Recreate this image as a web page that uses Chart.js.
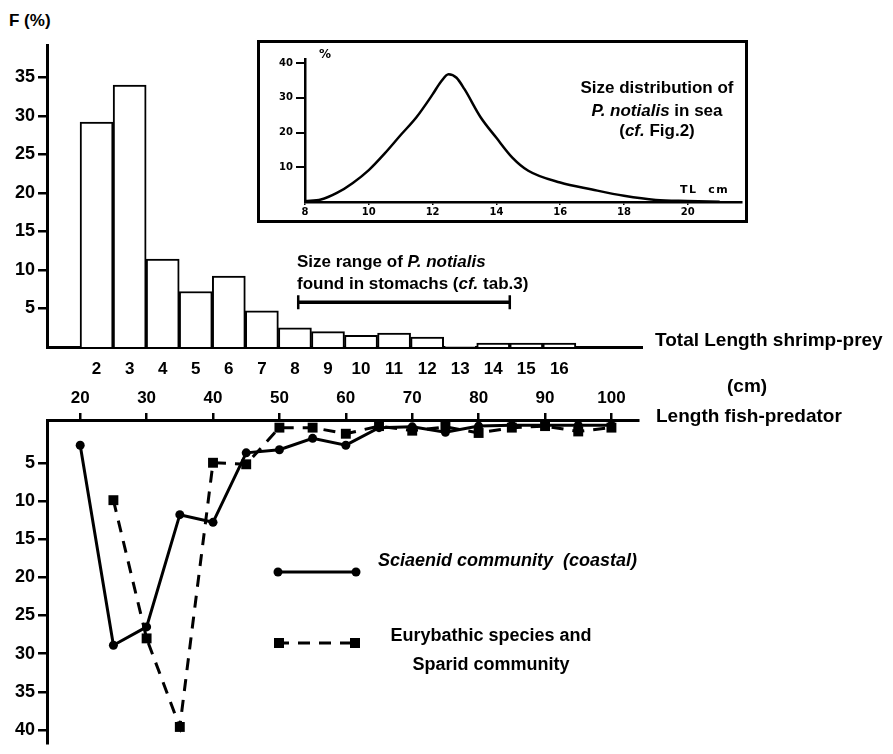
<!DOCTYPE html>
<html>
<head>
<meta charset="utf-8">
<script src="https://cdn.jsdelivr.net/npm/chart.js@4.4.1/dist/chart.umd.min.js"></script>
<style>
  html, body { margin: 0; padding: 0; background: #fff; }
  #page { position: relative; width: 893px; height: 754px; overflow: hidden;
          font-family: 'Liberation Sans', Arial, sans-serif; color: #000; }
  canvas { position: absolute; }
  .t { position: absolute; white-space: nowrap; font-weight: bold; line-height: 1; }
  .c { text-align: center; }
  #insetBox { position: absolute; left: 257px; top: 40px; width: 491px; height: 183px;
              border: 3px solid #000; box-sizing: border-box; }
  svg { position: absolute; left: 0; top: 0; }
</style>
</head>
<body>
<div id="page">
  <canvas id="histChart" width="660" height="340" style="left:0;top:40px;width:660px;height:340px"></canvas>
  <div id="insetBox"></div>
  <canvas id="seaChart" width="485" height="177" style="left:260px;top:43px;width:485px;height:177px"></canvas>
  <canvas id="predChart" width="893" height="379" style="left:0;top:375px;width:893px;height:379px"></canvas>

  <div class="t" style="left:9px;top:12px;font-size:17px">F (%)</div>
  <div class="t" style="left:655px;top:330px;font-size:19px">Total Length shrimp-prey</div>
  <div class="t" style="left:727px;top:376px;font-size:19px">(cm)</div>
  <div class="t" style="left:656px;top:406px;font-size:19px">Length fish-predator</div>

  <div class="t" style="left:297px;top:253px;font-size:17px">Size range of <i>P. notialis</i></div>
  <div class="t" style="left:297px;top:275px;font-size:17px">found in stomachs (<i>cf.</i> tab.3)</div>

  <div class="t" style="left:319px;top:48px;font-size:12px;font-family:'DejaVu Sans'">%</div>
  <div class="t c" style="left:557px;top:79px;width:200px;font-size:17px">Size distribution of</div>
  <div class="t c" style="left:557px;top:102px;width:200px;font-size:17px"><i>P. notialis</i> in sea</div>
  <div class="t c" style="left:557px;top:122px;width:200px;font-size:17px">(<i>cf.</i> Fig.2)</div>
  <div class="t" style="left:680px;top:184px;font-size:11px;font-family:'DejaVu Sans';letter-spacing:1.5px">TL&nbsp; cm</div>

  <svg width="893" height="754">
    <line x1="277" y1="572" x2="357" y2="572" stroke="#000" stroke-width="3"/>
    <circle cx="278" cy="572" r="4.5" fill="#000"/>
    <circle cx="356" cy="572" r="4.5" fill="#000"/>
    <line x1="277" y1="643" x2="357" y2="643" stroke="#000" stroke-width="3" stroke-dasharray="12 9"/>
    <rect x="274" y="638" width="10" height="10" fill="#000"/>
    <rect x="350" y="638" width="10" height="10" fill="#000"/>
  </svg>
  <div class="t" style="left:378px;top:551px;font-size:18px"><i>Sciaenid community&nbsp; (coastal)</i></div>
  <div class="t c" style="left:341px;top:626px;width:300px;font-size:18px">Eurybathic species and</div>
  <div class="t c" style="left:341px;top:655px;width:300px;font-size:18px">Sparid community</div>
</div>

<script>
const FONT = "'Liberation Sans', Arial, sans-serif";

// shrimp prey total length (cm) found in stomachs, frequency %
const shrimpLabels = ['', '2', '3', '4', '5', '6', '7', '8', '9', '10', '11', '12', '13', '14', '15', '16', '', ''];
const stomachFreq = [null, 29.2, 34.0, 11.4, 7.2, 9.2, 4.7, 2.5, 2.0, 1.5, 1.8, 1.3, 0.1, 0.5, 0.5, 0.5, null, null];
const stomachRange = [8.1, 14.5];
const histYTicks = [5, 10, 15, 20, 25, 30, 35];

// inset: size distribution of P. notialis in sea
const seaLength = [8, 8.5, 9, 9.5, 10, 10.5, 11, 11.5, 12, 12.25, 12.5, 12.75, 13, 13.5, 14, 14.5, 15, 16, 17, 18, 19, 20, 21];
const seaPercent = [0.3, 0.7, 2.6, 5.5, 9.2, 14, 19.3, 24.5, 31, 34.5, 36.8, 35.8, 32.5, 24.5, 18.5, 12.8, 9, 5.6, 3.6, 1.8, 0.6, 0.3, 0.1];
const seaXTicks = [8, 10, 12, 14, 16, 18, 20];
const seaYTicks = [10, 20, 30, 40];

// lower panel: length of fish predator (cm)
const predatorLength = [20, 25, 30, 35, 40, 45, 50, 55, 60, 65, 70, 75, 80, 85, 90, 95, 100];
const sciaenid = [2.7, 28.9, 26.5, 11.8, 12.8, 3.7, 3.3, 1.8, 2.7, 0.4, 0.3, 1.0, 0.2, 0.1, 0.1, 0.1, 0.1];
const eurybathic = [null, 9.9, 28.0, 39.6, 5.0, 5.2, 0.4, 0.4, 1.2, 0.2, 0.8, 0.3, 1.1, 0.4, 0.2, 0.9, 0.4];
const predXTicks = [20, 30, 40, 50, 60, 70, 80, 90, 100];
const predYTicks = [5, 10, 15, 20, 25, 30, 35, 40];

const rangeBarPlugin = {
    id: 'rangeBar',
    afterDatasetsDraw(chart) {
        const ctx = chart.ctx;
        const x1 = chart.scales.x.getPixelForValue(stomachRange[0] - 1);
        const x2 = chart.scales.x.getPixelForValue(stomachRange[1] - 1);
        const y = chart.scales.y.getPixelForValue(5.8);
        ctx.save();
        ctx.strokeStyle = '#000';
        ctx.lineWidth = 3.5;
        ctx.beginPath();
        ctx.moveTo(x1, y); ctx.lineTo(x2, y);
        ctx.stroke();
        ctx.lineWidth = 2.5;
        ctx.beginPath();
        ctx.moveTo(x1, y - 7); ctx.lineTo(x1, y + 7);
        ctx.moveTo(x2, y - 7); ctx.lineTo(x2, y + 7);
        ctx.stroke();
        ctx.restore();
    }
};

function setTicks(values) {
    return function(scale) {
        scale.ticks = values.map(v => ({ value: v }));
    };
}

// fixed axis size, no extra padding for overflowing labels
function fixWidth(w) {
    return function(s) { s.width = w; s.paddingTop = 0; s.paddingBottom = 0; };
}
function fixHeight(h) {
    return function(s) { s.height = h; s.paddingLeft = 0; s.paddingRight = 0; };
}

new Chart(document.getElementById('histChart'), {
    type: 'bar',
    data: {
        labels: shrimpLabels,
        datasets: [{
            data: stomachFreq,
            backgroundColor: '#fff',
            borderColor: '#000',
            borderWidth: 2,
            categoryPercentage: 1,
            barPercentage: 1,
        }]
    },
    options: {
        responsive: false,
        animation: false,
        layout: { padding: { top: 5, right: 18, left: 0, bottom: 0 } },
        plugins: { legend: { display: false }, tooltip: { enabled: false } },
        scales: {
            x: {
                afterFit: fixHeight(33),
                grid: { display: false, drawTicks: false },
                border: { color: '#000', width: 3 },
                ticks: { color: '#000', padding: 12, maxRotation: 0, autoSkip: false,
                         font: { family: FONT, size: 17, weight: 'bold' } },
            },
            y: {
                min: 0,
                max: 39.2,
                afterFit: fixWidth(47),
                afterBuildTicks: setTicks(histYTicks),
                grid: { drawOnChartArea: false, drawTicks: true, tickLength: 9, color: '#000', lineWidth: 2.5 },
                border: { color: '#000', width: 3 },
                ticks: { color: '#000', padding: 3,
                         font: { family: FONT, size: 18, weight: 'bold' } },
            }
        }
    },
    plugins: [rangeBarPlugin]
});

new Chart(document.getElementById('seaChart'), {
    type: 'line',
    data: {
        datasets: [{
            data: seaLength.map((x, i) => ({ x: x, y: seaPercent[i] })),
            borderColor: '#000',
            borderWidth: 2.5,
            pointRadius: 0,
            cubicInterpolationMode: 'monotone',
        }]
    },
    options: {
        responsive: false,
        animation: false,
        layout: { padding: { top: 16, right: 3, left: 0, bottom: 0 } },
        plugins: { legend: { display: false }, tooltip: { enabled: false } },
        scales: {
            x: {
                type: 'linear',
                min: 8,
                max: 21.7,
                afterFit: fixHeight(18),
                afterBuildTicks: setTicks(seaXTicks),
                grid: { drawOnChartArea: false, tickLength: 3, color: '#000', lineWidth: 1.5 },
                border: { color: '#000', width: 2.5 },
                ticks: { color: '#000', padding: 1, maxRotation: 0,
                         font: { family: 'DejaVu Sans', size: 10, weight: 'bold' } },
            },
            y: {
                min: 0,
                max: 41.2,
                afterFit: fixWidth(45),
                afterBuildTicks: setTicks(seaYTicks),
                grid: { drawOnChartArea: false, tickLength: 9, color: '#000', lineWidth: 2 },
                border: { color: '#000', width: 2.5 },
                ticks: { color: '#000', padding: 3,
                         font: { family: 'DejaVu Sans', size: 10, weight: 'bold' } },
            }
        }
    }
});

new Chart(document.getElementById('predChart'), {
    type: 'line',
    data: {
        datasets: [
            {
                label: 'Eurybathic species and Sparid community',
                data: predatorLength.map((x, i) => ({ x: x, y: eurybathic[i] })),
                borderColor: '#000',
                backgroundColor: '#000',
                borderWidth: 3,
                borderDash: [12, 9],
                pointStyle: 'rect',
                pointRadius: 7,
                pointBorderWidth: 0,
                tension: 0,
            },
            {
                label: 'Sciaenid community (coastal)',
                data: predatorLength.map((x, i) => ({ x: x, y: sciaenid[i] })),
                borderColor: '#000',
                backgroundColor: '#000',
                borderWidth: 3,
                pointStyle: 'circle',
                pointRadius: 4.5,
                pointBorderWidth: 0,
                tension: 0,
            }
        ]
    },
    options: {
        responsive: false,
        animation: false,
        layout: { padding: { top: 0, right: 255, left: 0, bottom: 11 } },
        plugins: { legend: { display: false }, tooltip: { enabled: false } },
        scales: {
            x: {
                type: 'linear',
                position: 'top',
                min: 15,
                max: 104,
                afterFit: fixHeight(45),
                afterBuildTicks: setTicks(predXTicks),
                grid: { drawOnChartArea: false, tickLength: 7, color: '#000', lineWidth: 2.5 },
                border: { color: '#000', width: 3 },
                ticks: { color: '#000', padding: 4, maxRotation: 0,
                         font: { family: FONT, size: 17, weight: 'bold' } },
            },
            y: {
                reverse: true,
                min: -0.6,
                max: 41.7,
                afterFit: fixWidth(47),
                afterBuildTicks: setTicks(predYTicks),
                grid: { drawOnChartArea: false, tickLength: 9, color: '#000', lineWidth: 2.5 },
                border: { color: '#000', width: 3 },
                ticks: { color: '#000', padding: 3,
                         font: { family: FONT, size: 18, weight: 'bold' } },
            }
        }
    }
});
</script>
</body>
</html>
